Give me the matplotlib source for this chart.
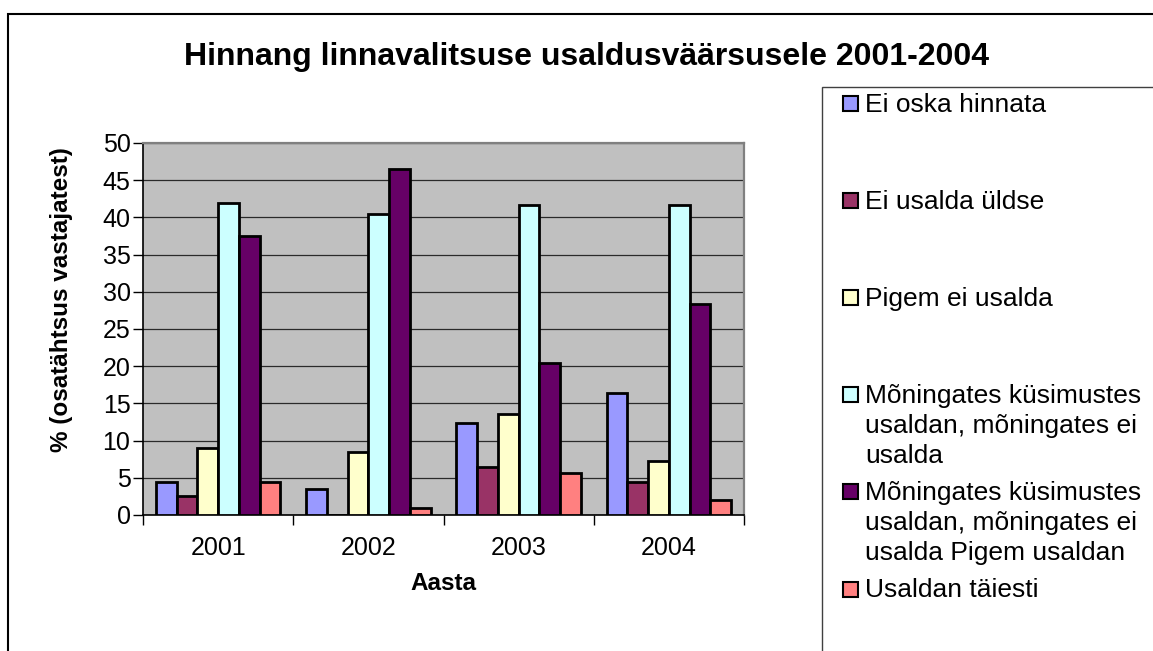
import numpy as np
import matplotlib
matplotlib.use("Agg")
import matplotlib.pyplot as plt
from matplotlib.patches import Rectangle

plt.rcParams['font.family'] = ['Liberation Sans', 'DejaVu Sans']

# ---- data ----
years = ["2001", "2002", "2003", "2004"]
series_labels = [
    "Ei oska hinnata",
    "Ei usalda üldse",
    "Pigem ei usalda",
    "Mõningates küsimustes\nusaldan, mõningates ei\nusalda",
    "Mõningates küsimustes\nusaldan, mõningates ei\nusalda Pigem usaldan",
    "Usaldan täiesti",
]
ei_oska = [4.5, 3.5, 12.3, 16.4]
ei_usalda_yldse = [2.5, 0.0, 6.4, 4.4]
pigem_ei = [9.0, 8.5, 13.6, 7.2]
moningates = [42.0, 40.5, 41.6, 41.6]
moningates_pigem = [37.5, 46.5, 20.4, 28.4]
taiesti = [4.5, 1.0, 5.6, 2.0]
series_values = [ei_oska, ei_usalda_yldse, pigem_ei, moningates, moningates_pigem, taiesti]
colors = ["#9999FF", "#993366", "#FFFFCC", "#CCFFFF", "#660066", "#FF8080"]
yticks = list(range(0, 51, 5))

W, H = 1153, 651
fig = plt.figure(figsize=(W / 100, H / 100), dpi=100)

# outer chart border and legend box
fig.add_artist(Rectangle((8 / W, -0.1), 1.2, 1 - 14 / H + 0.1, transform=fig.transFigure,
                         fill=False, edgecolor="black", linewidth=1.5))
fig.add_artist(Rectangle((822 / W, -0.1), 1.0, 1 - 87 / H + 0.1, transform=fig.transFigure,
                         fill=False, edgecolor="#404040", linewidth=1.0))

ax = fig.add_axes([143 / W, 1 - 515 / H, (744 - 143) / W, (515 - 143) / H])
ax.set_facecolor("#C0C0C0")

x = np.arange(len(years))
n = len(series_values)
bw = 0.138
bars = []
for i, (vals, col) in enumerate(zip(series_values, colors)):
    b = ax.bar(x + (i - (n - 1) / 2) * bw, vals, bw, color=col, edgecolor="black",
               linewidth=2.0, zorder=3)
    bars.append(b)

ax.set_xlim(-0.5, len(years) - 0.5)
ax.set_ylim(0, 50)
ax.set_yticks(yticks)
ax.set_yticklabels([str(v) for v in yticks], fontsize=18)
ax.yaxis.grid(True, color="#2a2a2a", linewidth=0.9, zorder=1)
ax.set_axisbelow(True)

ax.set_xticks(np.arange(-0.5, len(years), 1.0))
ax.set_xticklabels([])
ax.set_xticks(x, minor=True)
ax.set_xticklabels(years, minor=True, fontsize=18)
ax.tick_params(axis="x", which="major", direction="out", length=7, width=1, color="black")
ax.tick_params(axis="x", which="minor", length=0, pad=15)
ax.tick_params(axis="y", direction="out", length=7, width=1, color="black", pad=2)

for s in ["left", "bottom"]:
    ax.spines[s].set_color("black")
    ax.spines[s].set_linewidth(1.2)
for s in ["top", "right"]:
    ax.spines[s].set_color("#808080")
    ax.spines[s].set_linewidth(1.6)

fig.text(586 / W, 1 - 57 / H, "Hinnang linnavalitsuse usaldusväärsusele 2001-2004",
         ha="center", va="center", fontsize=23, fontweight="bold")
fig.text(443 / W, 1 - 583 / H, "Aasta", ha="center", va="center", fontsize=17.5,
         fontweight="bold")
fig.text(62 / W, 1 - 300 / H, "% (osatähtsus vastajatest)", ha="center", va="center",
         rotation=90, fontsize=17.5, fontweight="bold")

# legend
first_y = 103.5
slot = 97.1
line_h = 30.0
sq = 15
for i, (lab, col) in enumerate(zip(series_labels, colors)):
    yc = first_y + i * slot
    fig.add_artist(Rectangle((843 / W, 1 - (yc + sq / 2) / H), sq / W, sq / H,
                             transform=fig.transFigure, facecolor=col,
                             edgecolor="black", linewidth=1.5))
    for k, line in enumerate(lab.split("\n")):
        fig.text(865 / W, 1 - (yc + 1 + k * line_h) / H, line, ha="left", va="center",
                 fontsize=19)

fig.savefig("out.png", dpi=100)
